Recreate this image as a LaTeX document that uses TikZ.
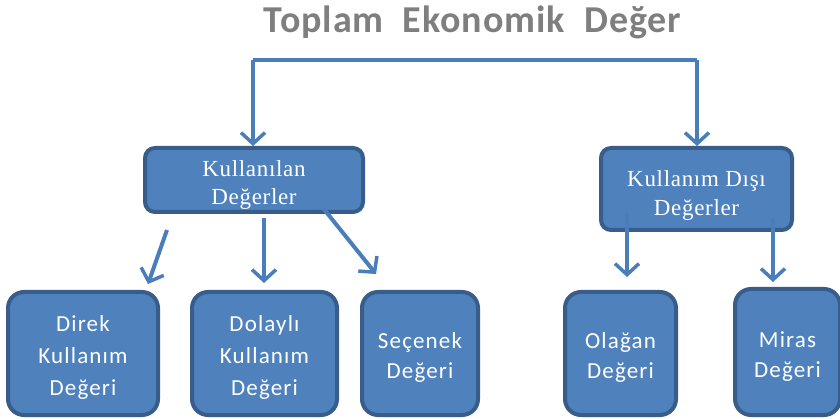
\documentclass[tikz,border=0pt]{standalone}
\usepackage{fontspec}
\setmainfont{Liberation Serif}
\setsansfont{Carlito}
\newfontfamily\titlefont[LetterSpace=2.5]{Carlito}
\newfontfamily\topfont[LetterSpace=3]{Liberation Serif}
\newfontfamily\botfont[LetterSpace=5]{Carlito}
\usetikzlibrary{arrows.meta}
\definecolor{boxfill}{HTML}{4F81BD}
\definecolor{boxline}{HTML}{385D8A}
\definecolor{arrowc}{HTML}{4A7EBB}
\definecolor{titlec}{HTML}{7F7F7F}
\tikzset{
  topbox/.style={draw=boxline, fill=boxfill, line width=4pt, rounded corners=10pt, inner sep=0pt},
  botbox/.style={draw=boxline, fill=boxfill, line width=4pt, rounded corners=16pt, inner sep=0pt},
  toptext/.style={text=white, align=center, font=\topfont\fontsize{23}{28.5}\selectfont, inner sep=0pt},
  bottext/.style={text=white, align=center, font=\botfont\fontsize{23}{32}\selectfont, inner sep=0pt},
  bottext2/.style={text=white, align=center, font=\botfont\fontsize{23}{30}\selectfont, inner sep=0pt},
  conn/.style={draw=arrowc, line width=4pt, -{Straight Barb[length=11pt,width=24pt,line width=3.5pt]}},
  line/.style={draw=arrowc, line width=4pt}
}
\begin{document}
\begin{tikzpicture}[x=1pt,y=-1pt]
\useasboundingbox (0,0) rectangle (840,419);
\node[font=\titlefont\bfseries\fontsize{38}{44}\selectfont, text=titlec] (title) at (472.5,22) {Toplam\ \ Ekonomik\ \ Değer};
% top boxes
\node[topbox, minimum width=218pt, minimum height=64pt] (ku) at (254,180) {};
\node[toptext] (kut) at ([yshift=-5pt]ku.center) {Kullanılan\\Değerler};
\node[topbox, minimum width=191pt, minimum height=82pt] (kd) at (696.5,189) {};
\node[toptext] (kdt) at ([yshift=-6.5pt]kd.center) {Kullanım Dışı\\Değerler};
% bottom boxes
\node[botbox, minimum width=150pt, minimum height=123pt] (direk) at (83,353.5) {};
\node[bottext] (direkt) at ([yshift=-4pt]direk.center) {Direk\\Kullanım\\Değeri};
\node[botbox, minimum width=145pt, minimum height=123pt] (dolayli) at (264.5,353.5) {};
\node[bottext] (dolaylit) at ([yshift=-4pt]dolayli.center) {Dolaylı\\Kullanım\\Değeri};
\node[botbox, minimum width=116pt, minimum height=123pt] (secenek) at (420,353.5) {};
\node[bottext2] (secenekt) at ([yshift=-4pt]secenek.center) {Seçenek\\Değeri};
\node[botbox, minimum width=111pt, minimum height=123pt] (olagan) at (620.5,353.5) {};
\node[bottext2] (olagant) at ([yshift=-4pt]olagan.center) {Olağan\\Değeri};
\node[botbox, minimum width=105pt, minimum height=126pt] (miras) at (787.5,352) {};
\node[bottext2] (mirast) at ([yshift=-5pt]miras.center) {Miras\\Değeri};
% top connector
\coordinate (tl) at (253,60);
\coordinate (tr) at (697,60);
\draw[line] (tl) -- (tr);
\draw[conn] (tl) -- (ku.north -| tl);
\draw[conn] (tr) -- (kd.north -| tr);
% from Kullanilan
\coordinate (a1s) at (167,230);
\coordinate (a1e) at (148,284);
\coordinate (a2s) at (264,218);
\coordinate (a2e) at (264,283);
\coordinate (a3s) at (323,208);
\coordinate (a3e) at (376,274);
\draw[conn] (a1s) -- (a1e);
\draw[conn] (a2s) -- (a2e);
\draw[conn] (a3s) -- (a3e);
% from Kullanim Disi
\coordinate (b1s) at (627,213);
\coordinate (b1e) at (627,277);
\coordinate (b2s) at (773,218);
\coordinate (b2e) at (773,282);
\draw[conn] (b1s) -- (b1e);
\draw[conn] (b2s) -- (b2e);
\end{tikzpicture}
\end{document}
